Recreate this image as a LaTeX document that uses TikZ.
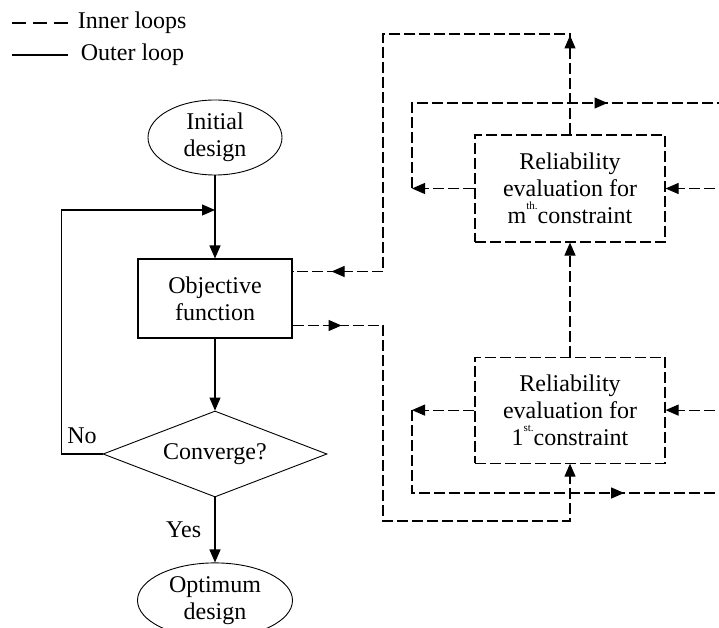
\documentclass[tikz,border=0pt]{standalone}
\usepackage{fontspec}
\setmainfont{Liberation Serif}
\usetikzlibrary{arrows.meta, positioning, shapes.geometric, decorations.markings}

\begin{document}
\begin{tikzpicture}[
x=1pt, y=-1pt,
font=\fontsize{24}{27}\selectfont,
>={Triangle[length=13pt, width=11pt]},
box/.style={rectangle, draw, line width=1.1pt, inner sep=0pt, align=center},
dbox/.style={box, dash pattern=on 11pt off 4pt},
term/.style={ellipse, draw, line width=0.9pt, inner sep=0pt, align=center},
decision/.style={diamond, draw, line width=0.9pt, inner sep=0pt, aspect=2.6,
minimum width=224pt, minimum height=86pt},
outer/.style={line width=1.1pt},
inner/.style={line width=1.1pt, dash pattern=on 11pt off 4pt},
marr/.style={postaction={decorate, decoration={markings,
mark=at position #1 with {\arrow{>}}}}}
]
\useasboundingbox (0,0) rectangle (719,628);
\clip (0,0) rectangle (719,628);

% legend
\draw[inner, dash pattern=on 14pt off 7pt] (12,23) -- ++(56,0) node[right=6pt] (lgin) {Inner loops};
\draw[outer] (12,55) -- ++(56,0) node[right=9pt] (lgout) {Outer loop};

% outer loop
\node[term, minimum width=134pt, minimum height=75pt] (init) at (215,137.5) {Initial\\design};
\node[box, minimum width=154pt, minimum height=79pt, below=83pt of init] (obj) {Objective\\function};
\node[decision, below=72pt of obj] (conv) {Converge?};
\node[term, minimum width=155pt, minimum height=75pt, below=65pt of conv] (opt) {Optimum\\design};

% constraint boxes
\node[dbox, minimum width=190pt, minimum height=107pt] (relm) at (570,188.5)
{Reliability\\evaluation for\\m\smash{\raisebox{14pt}{\fontsize{11}{11}\selectfont th.}}constraint};
\node[dbox, minimum width=190pt, minimum height=106pt, below=114pt of relm] (rel1)
{Reliability\\evaluation for\\1\smash{\raisebox{14pt}{\fontsize{11}{11}\selectfont st.}}constraint};

\coordinate (back) at (init.south |- 0,210);
\coordinate (objup) at ([yshift=27pt]obj.east);
\coordinate (objdn) at ([yshift=-27pt]obj.east);
\coordinate (bus) at (383,0);
\coordinate (topc) at (relm.north |- 0,34);
\coordinate (botc) at (bus |- 0,521);
\coordinate (lm) at (412,0 |- relm.west);
\coordinate (l1) at (412,0 |- rel1.west);
\coordinate (outm) at (730,103);
\coordinate (out1) at (730,493);
\coordinate (inm) at (relm.east -| outm);
\coordinate (in1) at (rel1.east -| out1);

\draw[outer, ->] (init) -- (obj);
\draw[outer, ->] (obj) -- (conv);
\draw[outer, ->] (conv) -- node[left=10pt] (yes) {Yes} (opt);
\draw[outer, ->] (conv.west) -- node[above=6pt] (no) {No} ++(-41,0) |- (back);

% inner loops
\draw[inner, marr=99pt, marr=-39pt] (relm.north) -- (topc) -| (bus |- objup) -- (objup);
\draw[inner, ->, marr=49pt] (objdn) -| (botc) -| (rel1.south);
\draw[inner, ->] (rel1) -- (relm);

\draw[inner, ->] (relm.west) -- (lm);
\draw[inner, marr=281pt] (lm) |- (outm);
\draw[inner, ->] (inm) -- (relm.east);

\draw[inner, ->] (rel1.west) -- (l1);
\draw[inner, marr=295pt] (l1) |- (out1);
\draw[inner, ->] (in1) -- (rel1.east);

\end{tikzpicture}
\end{document}
